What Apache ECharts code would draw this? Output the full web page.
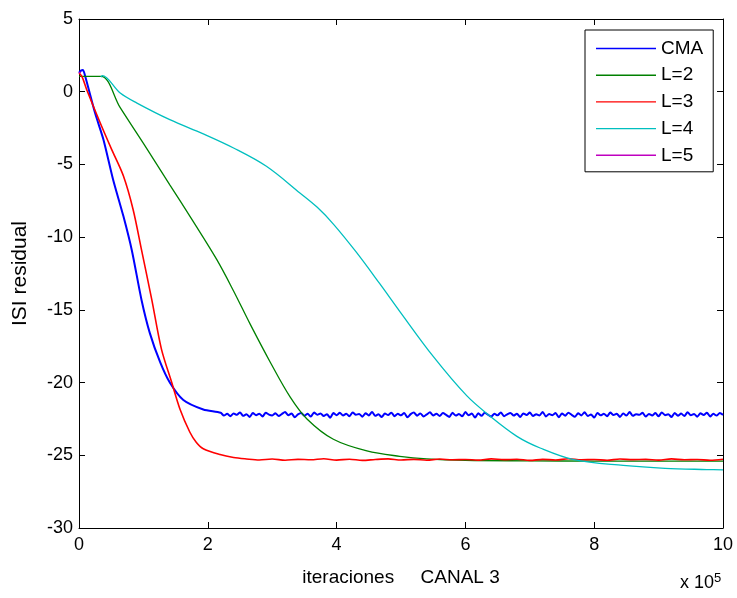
<!DOCTYPE html>
<html>
<head>
<meta charset="utf-8">
<script src="https://cdn.jsdelivr.net/npm/echarts@6/dist/echarts.min.js"></script>
<style>
html,body{margin:0;padding:0;background:#fff;}
#chart{width:737px;height:598px;}
</style>
</head>
<body>
<div id="chart"></div>
<script>
// ---- data (x in units of 1e5 iterations) ----
var seriesNames = ['CMA', 'L=2', 'L=3', 'L=4', 'L=5'];
var xTicks = [0, 2, 4, 6, 8, 10];
var yTicks = [5, 0, -5, -10, -15, -20, -25, -30];

// CMA: transient part
var cmaX = [0, 0.03, 0.06, 0.09, 0.25, 0.38, 0.53, 0.69, 0.82, 0.97, 1.10, 1.26, 1.41, 1.62, 1.93];
var cmaY = [1.3, 1.45, 1.5, 1.17, -1.47, -3.3, -6.05, -8.57, -10.9, -14.3, -16.6, -18.6, -20.0, -21.2, -21.85];
// CMA: steady-state part, sampled every 0.05 from 2.2 to 10
var cmaTailStart = 2.2, cmaTailStep = 0.05;
var cmaTailY = [
  -22.08,-22.27,-22.15,-22.31,-22.12,-22.22,-22.05,-22.29,-22.18,-22.36,-22.10,-22.24,-22.14,-22.33,-22.07,-22.20,-22.26,-22.11,-22.30,-22.16,
  -22.03,-22.25,-22.13,-22.38,-22.19,-22.09,-22.28,-22.15,-22.34,-22.06,-22.21,-22.12,-22.30,-22.17,-22.42,-22.10,-22.24,-22.08,-22.27,-22.14,
  -22.32,-22.05,-22.22,-22.16,-22.35,-22.11,-22.26,-22.02,-22.29,-22.18,-22.37,-22.13,-22.23,-22.07,-22.31,-22.15,-22.25,-22.09,-22.39,-22.17,
  -22.06,-22.28,-22.12,-22.33,-22.19,-22.04,-22.26,-22.14,-22.30,-22.10,-22.22,-22.36,-22.08,-22.27,-22.16,-22.32,-22.03,-22.24,-22.13,-22.40,
  -22.11,-22.29,-22.07,-22.21,-22.34,-22.15,-22.25,-22.05,-22.31,-22.18,-22.09,-22.27,-22.14,-22.37,-22.12,-22.23,-22.06,-22.30,-22.17,-22.26,
  -22.02,-22.33,-22.16,-22.24,-22.10,-22.38,-22.13,-22.28,-22.07,-22.22,-22.35,-22.11,-22.26,-22.04,-22.30,-22.19,-22.41,-22.09,-22.25,-22.15,
  -22.31,-22.06,-22.23,-22.14,-22.36,-22.12,-22.27,-22.03,-22.29,-22.17,-22.22,-22.08,-22.34,-22.16,-22.26,-22.10,-22.32,-22.05,-22.24,-22.18,
  -22.37,-22.09,-22.28,-22.13,-22.30,-22.04,-22.25,-22.16,-22.35,-22.11,-22.23,-22.07,-22.33,-22.15,-22.27,-22.10,-22.22];

var l2X = [0, 0.34, 0.64, 1.05, 1.41, 1.77, 2.14, 2.4, 2.66, 2.97, 3.28, 3.54, 3.95, 4.47, 4.98, 5.4, 6.0, 7.0, 8.0, 9.0, 10.0];
var l2Y = [1.05, 1.05, -1.1, -3.9, -6.4, -8.9, -11.55, -13.7, -16.0, -18.6, -21.0, -22.5, -23.9, -24.7, -25.07, -25.25, -25.35, -25.38, -25.4, -25.4, -25.4];

var l3X = [0, 0.05, 0.12, 0.33, 0.51, 0.69, 0.84, 0.97, 1.13, 1.28, 1.44, 1.57, 1.72, 1.82, 1.93, 2.19, 2.4,
  2.6, 2.8, 3.0, 3.2, 3.4, 3.6, 3.8, 4.0, 4.2, 4.4, 4.6, 4.8, 5.0, 5.2, 5.4, 5.6, 5.8, 6.0,
  6.2, 6.4, 6.6, 6.8, 7.0, 7.2, 7.4, 7.6, 7.8, 8.0, 8.2, 8.4, 8.6, 8.8, 9.0, 9.2, 9.4, 9.6, 9.8, 10.0];
var l3Y = [1.3, 1.0, 0.14, -2.15, -4.0, -5.8, -8.1, -10.86, -14.3, -17.7, -20.0, -21.85, -23.4, -24.1, -24.55, -24.95, -25.15,
  -25.25, -25.32, -25.26, -25.34, -25.28, -25.31, -25.24, -25.33, -25.27, -25.35, -25.29, -25.25, -25.32, -25.28, -25.34, -25.26, -25.31, -25.29,
  -25.33, -25.25, -25.30, -25.27, -25.35, -25.28, -25.32, -25.24, -25.31, -25.29, -25.34, -25.26, -25.30, -25.28, -25.33, -25.25, -25.31, -25.29, -25.34, -25.27];

var l4X = [0.34, 0.36, 0.64, 0.90, 1.41, 1.93, 2.40, 2.91, 3.43, 3.70, 3.95, 4.30, 4.67, 4.98, 5.50, 6.02, 6.38, 6.80, 7.16, 7.68, 8.45, 9.1, 9.75, 10.0];
var l4Y = [1.0, 1.1, -0.09, -0.78, -1.92, -2.9, -3.87, -5.13, -6.96, -7.95, -9.1, -11.0, -13.2, -15.1, -18.2, -20.9, -22.3, -23.7, -24.5, -25.3, -25.7, -25.9, -25.98, -26.0];

var l5X = [0, 0.03];
var l5Y = [1.3, 1.35];

function pairs(xs, ys) { return xs.map(function (x, i) { return [x, ys[i]]; }); }
var cmaData = pairs(cmaX, cmaY).concat(cmaTailY.map(function (y, i) {
  return [Math.round((cmaTailStart + i * cmaTailStep) * 1000) / 1000, y];
}));

var colors = ['#0000ff', '#008000', '#ff0000', '#00bfbf', '#bf00bf'];
var widths = [2, 1.3, 1.6, 1.3, 1.3];
var smooths = [0.25, 0.35, 0.3, 0.35, 0];
var dataSets = [cmaData, pairs(l2X, l2Y), pairs(l3X, l3Y), pairs(l4X, l4Y), pairs(l5X, l5Y)];

var FONT = "'Liberation Sans', Arial, Helvetica, sans-serif";

var chart = echarts.init(document.getElementById('chart'), null, { renderer: 'canvas' });

var axisCommon = {
  axisLine: { show: true, onZero: false, lineStyle: { color: '#000', width: 1 } },
  axisTick: { show: true, inside: true, length: 6, lineStyle: { color: '#000', width: 1 } },
  splitLine: { show: false }
};

var option = {
  backgroundColor: '#ffffff',
  animation: false,
  grid: { left: 79, right: 14, top: 19, bottom: 70, containLabel: false },
  legend: {
    orient: 'vertical',
    left: 585, top: 30,
    padding: [9, 10, 7, 11],
    itemWidth: 60, itemHeight: 14, itemGap: 7.7,
    icon: 'path://M0,0L60,0L60,1.4L0,1.4Z',
    borderColor: '#000', borderWidth: 1, backgroundColor: '#fff',
    textStyle: { fontFamily: FONT, fontSize: 19, color: '#000', lineHeight: 18 },
    data: seriesNames
  },
  xAxis: [
    Object.assign({}, axisCommon, {
      type: 'value', min: 0, max: 10, interval: 2, position: 'bottom',
      axisLabel: { fontFamily: FONT, fontSize: 18, color: '#000', margin: 8,
        formatter: function (v) { return xTicks.indexOf(v) >= 0 ? String(v) : ''; } },
      name: 'iteraciones     CANAL 3', nameLocation: 'middle', nameGap: 40,
      nameTextStyle: { fontFamily: FONT, fontSize: 19, color: '#000' }
    }),
    Object.assign({}, axisCommon, {
      type: 'value', min: 0, max: 10, interval: 2, position: 'top',
      axisLabel: { show: false }
    })
  ],
  yAxis: [
    Object.assign({}, axisCommon, {
      type: 'value', min: -30, max: 5, interval: 5, position: 'left',
      axisLabel: { fontFamily: FONT, fontSize: 18, color: '#000', margin: 6,
        formatter: function (v) { return yTicks.indexOf(v) >= 0 ? String(v) : ''; } },
      name: 'ISI residual', nameLocation: 'middle', nameGap: 48,
      nameTextStyle: { fontFamily: FONT, fontSize: 21, color: '#000' }
    }),
    Object.assign({}, axisCommon, {
      type: 'value', min: -30, max: 5, interval: 5, position: 'right',
      axisLabel: { show: false }
    })
  ],
  graphic: [{
    type: 'text', left: 680, top: 572,
    style: {
      text: 'x 10{sup|5}', fill: '#000', font: '18px ' + FONT,
      rich: { sup: { fontSize: 13, verticalAlign: 'top', padding: [0, 0, 10, 0], fontFamily: FONT } }
    }
  }],
  series: seriesNames.map(function (n, i) {
    return {
      name: n, type: 'line', xAxisIndex: 0, yAxisIndex: 0,
      data: dataSets[i], symbol: 'none', showSymbol: false,
      smooth: smooths[i],
      lineStyle: { color: colors[i], width: widths[i] },
      itemStyle: { color: colors[i] },
      z: 2 + i
    };
  })
};
chart.setOption(option);
</script>
</body>
</html>
